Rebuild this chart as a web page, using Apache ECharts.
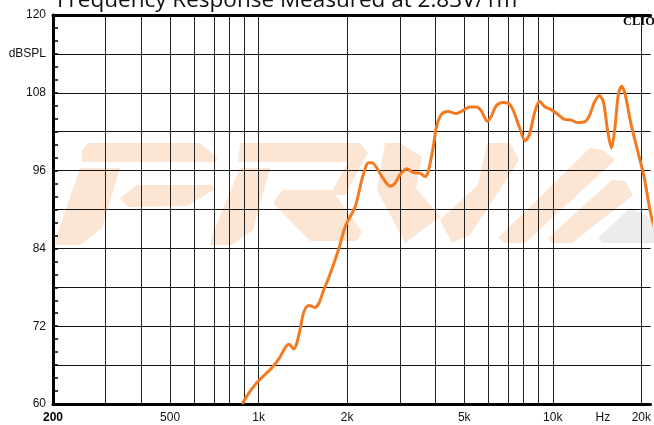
<!DOCTYPE html>
<html>
<head>
<meta charset="utf-8">
<script src="https://cdn.jsdelivr.net/npm/echarts@6/dist/echarts.min.js"></script>
<style>
  html, body { margin: 0; padding: 0; background: #fff; }
  #chart { width: 654px; height: 425px; }
</style>
</head>
<body>
<div id="chart"></div>
<script>
var freqs = [880, 914, 978, 1043, 1110, 1173, 1236, 1268, 1318, 1349, 1389, 1425, 1482, 1553, 1602,
    1665, 1718, 1800, 1872, 1972, 2132, 2245, 2365, 2427, 2623, 2801, 2912, 3028, 3188, 3358,
    3538, 3679, 3775, 3925, 4027, 4187, 4411, 4706, 4959, 5223, 5500, 5717, 5991, 6181, 6427,
    6769, 7040, 7320, 7714, 8056, 8337, 8668, 9013, 9372, 9865, 10394, 10950, 11530, 12150,
    12800, 13300, 13840, 14390, 14880, 15350, 15830, 16240, 16680, 17120, 17620, 18400, 19390,
    20430, 21510, 22600];
var spl = [60.0, 61.3, 63.1, 64.4, 65.6, 67.0, 68.8, 69.2, 68.5, 69.4, 71.9, 74.2, 75.2, 74.9, 75.5,
    77.6, 79.1, 81.6, 83.9, 87.4, 90.5, 94.6, 97.2, 97.2, 95.1, 93.6, 94.1, 95.4, 96.3, 95.7,
    95.6, 95.1, 95.9, 99.7, 102.8, 104.7, 105.1, 104.8, 105.3, 105.8, 105.8, 105.2, 103.6, 104.4, 106.0,
    106.5, 106.4, 105.4, 102.6, 100.6, 101.6, 104.9, 106.7, 105.9, 105.4, 104.7, 103.9, 103.8, 103.4,
    103.5, 104.4, 106.5, 107.6, 106.5, 102.3, 99.5, 102.3, 107.5, 109.0, 107.8, 103.4, 99.2,
    95.1, 89.4, 86.0];

var gridFreqs = [300, 400, 500, 600, 700, 800, 900, 1000, 2000, 3000, 4000, 5000, 6000, 7000, 8000, 9000, 10000, 20000];
var labelFreqs = [200, 500, 1000, 2000, 5000, 10000, 14800, 20000];
var labelTexts = ['200', '500', '1k', '2k', '5k', '10k', 'Hz', '20k'];

var xMinHz = 200, xMaxHz = 21500;

function lg(f) { return Math.log10(f); }

// PRV watermark shapes (background decoration)
var wmPeach = [
    [[88,143],[200,143],[218,158],[216,162],[82,162],[82,150]],
    [[80,168],[120,168],[102,228],[80,245],[55,245],[56,238]],
    [[137,185],[212,185],[215,189],[187,206],[128,207],[120,198]],
    [[243,143],[360,143],[368,153],[345,195],[330,195],[348,162],[262,162]],
    [[240,168],[270,168],[253,230],[232,245],[210,245],[212,235]],
    [[240,143],[262,143],[262,162],[238,162]],
    [[282,190],[332,190],[362,232],[357,241],[310,241],[273,203]],
    [[385,143],[400,143],[422,157],[416,188],[440,217],[405,243],[377,190]],
    [[487,143],[510,143],[519,160],[470,235],[452,243],[440,220],[478,185]],
    [[590,148],[603,150],[615,160],[525,243],[505,243],[498,238]],
    [[612,180],[625,181],[633,195],[572,243],[552,243],[548,238]]
];
var wmGrey = [[[630,208],[645,215],[660,228],[660,243],[602,243],[598,238]]];

var chart = echarts.init(document.getElementById('chart'));

var graphics = [];
wmPeach.forEach(function (pts) {
    graphics.push({ type: 'polygon', z: -10, silent: true, shape: { points: pts }, style: { fill: '#fde5d4' } });
});
wmGrey.forEach(function (pts) {
    graphics.push({ type: 'polygon', z: -10, silent: true, shape: { points: pts }, style: { fill: '#ececec' } });
});
graphics.push({
    type: 'text', left: 57, top: -11, z: 10,
    style: { text: 'Frequency Response Measured at 2.83V/1m', font: '22.5px "Open Sans"', fill: '#111' }
});
graphics.push({
    type: 'text', left: 623, top: 15, z: 10,
    style: { text: 'CLIO', font: 'bold 12.5px "Liberation Serif"', fill: '#000' }
});

var option = {
    animation: false,
    backgroundColor: '#fff',
    graphic: graphics,
    grid: { left: 53, right: 0, top: 15, bottom: 21 },
    xAxis: [
        {
            type: 'value',
            min: lg(xMinHz),
            max: lg(xMaxHz),
            axisLine: { show: true, lineStyle: { color: '#000', width: 3 } },
            axisTick: { show: false },
            splitLine: { show: false },
            axisLabel: {
                customValues: labelFreqs.map(lg),
                margin: 8,
                fontFamily: 'Liberation Sans',
                fontSize: 12,
                color: '#111',
                formatter: function (v) {
                    var i = labelFreqs.findIndex(function (f) { return Math.abs(lg(f) - v) < 1e-6; });
                    if (i < 0) return '';
                    return i === 0 ? '{b|' + labelTexts[i] + '}' : labelTexts[i];
                },
                rich: { b: { fontWeight: 'bold', fontSize: 12, fontFamily: 'Liberation Sans', color: '#000' } }
            }
        },
        {
            // top frame line
            type: 'value',
            position: 'top',
            min: lg(xMinHz),
            max: lg(xMaxHz),
            axisLine: { show: true, onZero: false, lineStyle: { color: '#000', width: 3 } },
            axisTick: { show: false },
            axisLabel: { show: false },
            splitLine: { show: false }
        }
    ],
    yAxis: {
        type: 'value',
        min: 60,
        max: 120,
        interval: 6,
        axisLine: { show: true, lineStyle: { color: '#000', width: 3 } },
        axisTick: { show: true, inside: true, length: 5, lineStyle: { color: '#000', width: 1.5 } },
        minorTick: { show: true, splitNumber: 3, length: 5, lineStyle: { color: '#000', width: 1.5 } },
        splitLine: { show: true, lineStyle: { color: '#111', width: 1 } },
        axisLabel: {
            margin: 7,
            fontFamily: 'Liberation Sans',
            fontSize: 12,
            color: '#111',
            formatter: function (v) {
                if (v === 114) return 'dBSPL';
                return v % 12 === 0 ? String(v) : '';
            }
        }
    },
    series: [
        {
            type: 'line',
            data: [],
            z: 1,
            silent: true,
            markLine: {
                silent: true,
                symbol: 'none',
                animation: false,
                label: { show: false },
                lineStyle: { color: '#222', width: 1, type: 'solid' },
                data: gridFreqs.map(function (f) { return { xAxis: lg(f) }; })
            }
        },
        {
            type: 'line',
            z: 5,
            data: freqs.map(function (f, i) { return [lg(f), spl[i]]; }),
            showSymbol: false,
            smooth: 0.3,
            lineStyle: { color: '#f47a20', width: 3 }
        }
    ]
};

chart.setOption(option);
</script>
</body>
</html>
